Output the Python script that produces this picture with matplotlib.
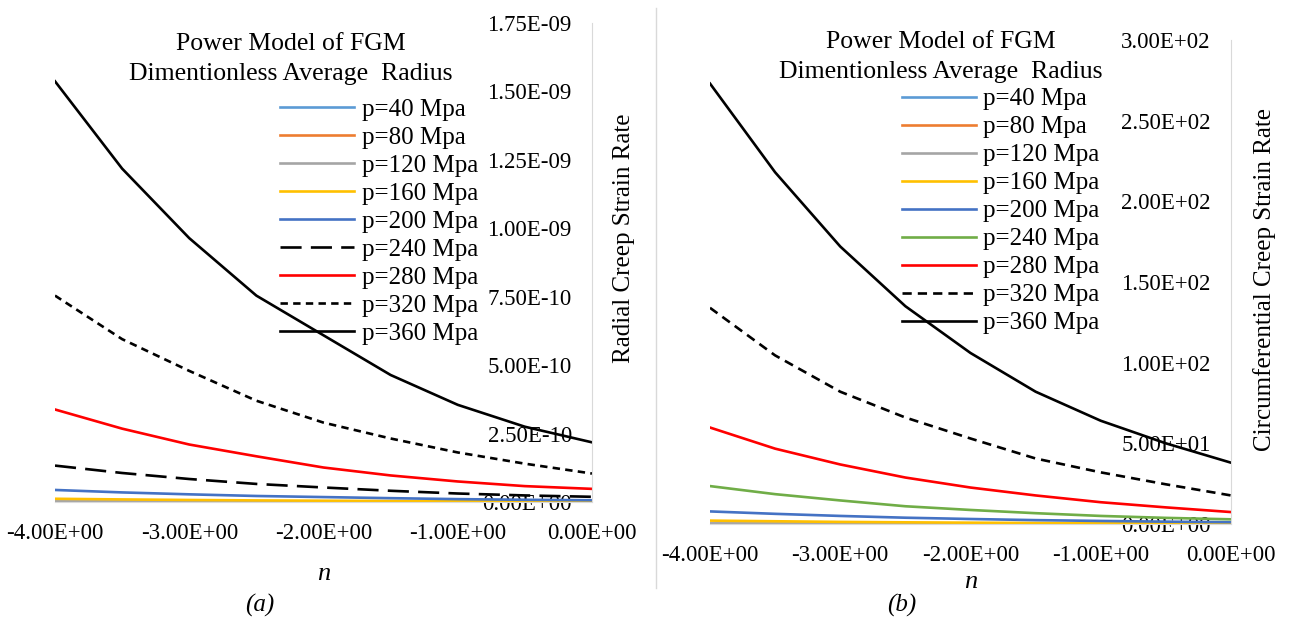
import matplotlib
matplotlib.use("Agg")
import matplotlib.pyplot as plt
from matplotlib.ticker import FuncFormatter

plt.rcParams['font.family'] = ['Liberation Serif', 'DejaVu Serif']

n = [-4.0, -3.5, -3.0, -2.5, -2.0, -1.5, -1.0, -0.5, 0.0]
labels = ['p=40 Mpa', 'p=80 Mpa', 'p=120 Mpa', 'p=160 Mpa', 'p=200 Mpa',
          'p=240 Mpa', 'p=280 Mpa', 'p=320 Mpa', 'p=360 Mpa']

# (a) radial creep strain rate
rad_40 = [3e-15, 2.3e-15, 1.8e-15, 1.4e-15, 1.2e-15, 9e-16, 7e-16, 5e-16, 4e-16]
rad_80 = [1.9e-13, 1.5e-13, 1.2e-13, 9e-14, 7.3e-14, 5.6e-14, 4.3e-14, 3.3e-14, 2.6e-14]
rad_120 = [2.1e-12, 1.7e-12, 1.3e-12, 1.0e-12, 8.3e-13, 6.4e-13, 4.9e-13, 3.8e-13, 3.0e-13]
rad_160 = [1.18e-11, 9.4e-12, 7.4e-12, 5.8e-12, 4.7e-12, 3.6e-12, 2.7e-12, 2.1e-12, 1.7e-12]
rad_200 = [4.4e-11, 3.5e-11, 2.8e-11, 2.2e-11, 1.8e-11, 1.4e-11, 1.05e-11, 8.1e-12, 6.4e-12]
rad_240 = [1.33e-10, 1.06e-10, 8.4e-11, 6.6e-11, 5.3e-11, 4.1e-11, 3.1e-11, 2.4e-11, 1.9e-11]
rad_280 = [3.38e-10, 2.68e-10, 2.10e-10, 1.67e-10, 1.26e-10, 9.7e-11, 7.5e-11, 5.8e-11, 4.8e-11]
rad_320 = [7.54e-10, 5.95e-10, 4.79e-10, 3.70e-10, 2.90e-10, 2.32e-10, 1.81e-10, 1.40e-10, 1.04e-10]
rad_360 = [1.537e-9, 1.218e-9, 9.64e-10, 7.54e-10, 6.09e-10, 4.64e-10, 3.55e-10, 2.75e-10, 2.18e-10]

# (b) circumferential creep strain rate
cir_40 = [0.0005, 0.0004, 0.0003, 0.00025, 0.0002, 0.00015, 0.00012, 0.00009, 0.00007]
cir_80 = [0.033, 0.026, 0.021, 0.016, 0.013, 0.0098, 0.0077, 0.006, 0.0046]
cir_120 = [0.37, 0.30, 0.24, 0.18, 0.15, 0.11, 0.088, 0.068, 0.052]
cir_160 = [2.1, 1.7, 1.3, 1.04, 0.82, 0.63, 0.49, 0.39, 0.29]
cir_200 = [7.8, 6.3, 5.0, 3.9, 3.1, 2.4, 1.9, 1.45, 1.1]
cir_240 = [23.5, 18.5, 14.6, 11.0, 8.7, 6.7, 5.0, 3.8, 2.9]
cir_280 = [59.8, 46.7, 36.9, 28.8, 22.6, 17.7, 13.5, 10.3, 7.4]
cir_320 = [134, 104.5, 82, 66, 53, 40.6, 32, 24.6, 17.7]
cir_360 = [273, 218, 172, 135, 106, 82, 64, 50, 38]

radial = [rad_40, rad_80, rad_120, rad_160, rad_200, rad_240, rad_280, rad_320, rad_360]
circum = [cir_40, cir_80, cir_120, cir_160, cir_200, cir_240, cir_280, cir_320, cir_360]

colors_a = ['#5B9BD5', '#ED7D31', '#A5A5A5', '#FFC000', '#4472C4',
            'black', '#FF0000', 'black', 'black']
colors_b = ['#5B9BD5', '#ED7D31', '#A5A5A5', '#FFC000', '#4472C4',
            '#70AD47', '#FF0000', 'black', 'black']
dash_a = [None, None, None, None, None, (8, 3.5), None, (2.8, 2), None]
dash_b = [None, None, None, None, None, None, None, (3.5, 2.3), None]

W, H = 1290, 621
fig = plt.figure(figsize=(W / 100, H / 100), dpi=100)


def sci(v, pos):
    if v == 0:
        v = 0.0
    return f"{v:.2E}".replace("-0.00", "0.00")


def panel(rect, data, colors, dashes, ylim, yticks, ylabel, title_xy, leg_xy, lab_xy, xlab_xy):
    ax = fig.add_axes(rect)
    for vals, lab, c, d in zip(data, labels, colors, dashes):
        line, = ax.plot(n, vals, color=c, lw=1.9, label=lab)
        if d is not None:
            line.set_dashes(d)
    ax.set_xlim(-4, 0)
    ax.set_ylim(*ylim)
    ax.set_xticks([-4, -3, -2, -1, 0])
    ax.set_yticks(yticks)
    ax.xaxis.set_major_formatter(FuncFormatter(sci))
    ax.yaxis.set_major_formatter(FuncFormatter(sci))
    for s in ['top', 'left']:
        ax.spines[s].set_visible(False)
    ax.spines['right'].set_color('#d9d9d9')
    ax.spines['bottom'].set_color('#d9d9d9')
    ax.tick_params(axis='x', length=0, labelsize=16.5, pad=15)
    ax.tick_params(axis='y', left=False, right=False, labelleft=False,
                   labelright=True, labelsize=16.5, pad=-18)
    for t in ax.get_yticklabels():
        t.set_horizontalalignment('right')
    ax.set_facecolor('none')
    ax.set_ylabel(ylabel, fontsize=18)
    ax.yaxis.set_label_position('right')
    ax.yaxis.set_label_coords(*lab_xy)
    ax.set_xlabel('n', fontsize=19, style='italic')
    ax.xaxis.set_label_coords(*xlab_xy)
    ax.text(title_xy[0], title_xy[1], 'Power Model of FGM\nDimentionless Average  Radius',
            transform=ax.transAxes, ha='center', va='center', fontsize=18.5, linespacing=1.5)
    ax.legend(loc='upper left', bbox_to_anchor=leg_xy, frameon=False, fontsize=18,
              borderaxespad=0, borderpad=0, handlelength=2.96, handletextpad=0.3,
              labelspacing=0.22)
    return ax


panel([55 / W, 1 - 502 / H, 537 / W, 479 / H], radial, colors_a, dash_a,
      (0, 1.75e-9), [i * 2.5e-10 for i in range(8)], 'Radial Creep Strain Rate',
      (0.4395, 0.925), (0.419, 0.843), (1.039, 0.551), (0.501, -0.127))

panel([710 / W, 1 - 524 / H, 521 / W, 484 / H], circum, colors_b, dash_b,
      (0, 300), [0, 50, 100, 150, 200, 250, 300], 'Circumferential Creep Strain Rate',
      (0.443, 0.965), (0.3685, 0.901), (1.042, 0.506), (0.501, -0.097))

fig.text(260 / W, 1 - 605 / H, '(a)', ha='center', va='center', fontsize=18, style='italic')
fig.text(902 / W, 1 - 605 / H, '(b)', ha='center', va='center', fontsize=18, style='italic')
fig.add_artist(plt.Line2D([656 / W, 656 / W], [1 - 8 / H, 1 - 588 / H], color='#d9d9d9', lw=1))

fig.savefig('out.png', dpi=100)
